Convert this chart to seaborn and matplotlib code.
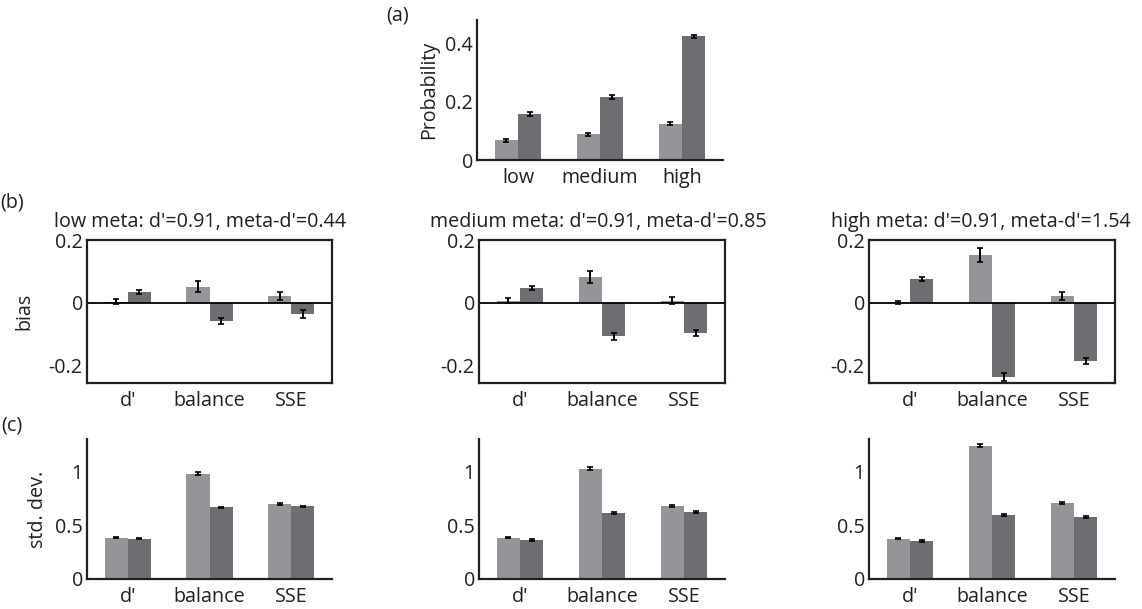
import pandas as pd
import seaborn as sns
import matplotlib
matplotlib.use("Agg")
import matplotlib.pyplot as plt

sns.set_theme(style="white")
plt.rcParams['font.family'] = ['Open Sans', 'DejaVu Sans']

# colores de las dos series
light_gray = '#939598'
dark_gray = '#6d6e71'

# (a) probabilidad por nivel de meta
levels = ['low', 'medium', 'high']
prob_light = [0.068, 0.088, 0.125]
prob_dark = [0.158, 0.216, 0.424]
prob_light_err = [0.005, 0.005, 0.006]
prob_dark_err = [0.006, 0.006, 0.006]

# (b) y (c): medidas
measures = ["d'", 'balance', 'SSE']
titles = ["low meta: d'=0.91, meta-d'=0.44",
          "medium meta: d'=0.91, meta-d'=0.85",
          "high meta: d'=0.91, meta-d'=1.54"]

bias_light = [[0.004, 0.052, 0.023],
              [0.007, 0.082, 0.007],
              [0.001, 0.151, 0.023]]
bias_dark = [[0.035, -0.057, -0.036],
             [0.048, -0.107, -0.096],
             [0.075, -0.236, -0.185]]
bias_light_err = [[0.009, 0.018, 0.013],
                  [0.009, 0.020, 0.012],
                  [0.006, 0.022, 0.013]]
bias_dark_err = [[0.006, 0.010, 0.012],
                 [0.006, 0.010, 0.010],
                 [0.006, 0.012, 0.010]]

sd_light = [[0.385, 0.978, 0.699],
            [0.385, 1.025, 0.680],
            [0.373, 1.239, 0.708]]
sd_dark = [[0.373, 0.665, 0.674],
           [0.363, 0.615, 0.624],
           [0.354, 0.596, 0.578]]
sd_light_err = [[0.006, 0.012, 0.008],
                [0.006, 0.012, 0.008],
                [0.006, 0.014, 0.008]]
sd_dark_err = [[0.006, 0.008, 0.008],
               [0.006, 0.008, 0.008],
               [0.006, 0.008, 0.008]]

W, H = 1142, 609
fig = plt.figure(figsize=(W / 100, H / 100), dpi=100)
FS = 14.2
TXT = '#231f20'


def px_axes(left, top, right, bottom):
    return fig.add_axes([left / W, (H - bottom) / H, (right - left) / W, (bottom - top) / H])


def grouped_bars(ax, cats, v_light, v_dark, e_light, e_dark):
    df = pd.DataFrame({
        'cat': cats + cats,
        'val': list(v_light) + list(v_dark),
        'serie': ['a'] * len(cats) + ['b'] * len(cats),
    })
    sns.barplot(data=df, x='cat', y='val', hue='serie', order=cats,
                palette=[light_gray, dark_gray], width=0.57, errorbar=None,
                saturation=1, legend=False, ax=ax, linewidth=0)
    errs = list(e_light) + list(e_dark)
    vals = list(v_light) + list(v_dark)
    for p, v, e in zip(ax.patches, vals, errs):
        xc = p.get_x() + p.get_width() / 2
        ax.errorbar(xc, v, yerr=e, color='black', lw=1.4, capsize=2, capthick=1.2)
    ax.set_xlim(-0.5, 2.5)
    ax.set_xlabel('')
    ax.set_ylabel('')
    ax.tick_params(axis='both', labelsize=FS, length=3, direction='in', color='#222222', pad=3,
                   labelcolor=TXT)
    ax.tick_params(axis='x', length=0, pad=6)
    for s in ax.spines.values():
        s.set_color(TXT)
        s.set_linewidth(1.6)


# (a)
ax_a = px_axes(477, 20, 723, 160)
grouped_bars(ax_a, levels, prob_light, prob_dark, prob_light_err, prob_dark_err)
ax_a.set_ylim(0, 0.48)
ax_a.set_yticks([0, 0.2, 0.4])
ax_a.set_yticklabels(['0', '0.2', '0.4'])
ax_a.set_ylabel('Probability', fontsize=FS, labelpad=4, color=TXT)
sns.despine(ax=ax_a)
fig.text(398 / W, 1 - 15 / H, '(a)', fontsize=FS, ha='center', va='center', color=TXT)

lefts = [87, 479, 869]
rights = [332, 725, 1115]
title_x = [0.461, 0.486, 0.455]

# (b) sesgo
for i in range(3):
    ax = px_axes(lefts[i], 240, rights[i], 383)
    grouped_bars(ax, measures, bias_light[i], bias_dark[i], bias_light_err[i], bias_dark_err[i])
    ax.axhline(0, color='black', lw=1.3, zorder=1)
    ax.set_ylim(-0.255, 0.2)
    ax.set_yticks([-0.2, 0, 0.2])
    ax.set_yticklabels(['-0.2', '0', '0.2'])
    ax.set_title(titles[i], fontsize=FS, pad=9, color=TXT, x=title_x[i])
    if i == 0:
        ax.set_ylabel('bias', fontsize=FS, labelpad=10, color=TXT)
fig.text(12 / W, 1 - 203 / H, '(b)', fontsize=FS, ha='center', va='center', color=TXT)

# (c) desviacion estandar
for i in range(3):
    ax = px_axes(lefts[i], 439, rights[i], 579)
    grouped_bars(ax, measures, sd_light[i], sd_dark[i], sd_light_err[i], sd_dark_err[i])
    ax.set_ylim(0, 1.3)
    ax.set_yticks([0, 0.5, 1])
    ax.set_yticklabels(['0', '0.5', '1'])
    sns.despine(ax=ax)
    if i == 0:
        ax.set_ylabel('std. dev.', fontsize=FS, labelpad=5, color=TXT)
fig.text(12 / W, 1 - 425 / H, '(c)', fontsize=FS, ha='center', va='center', color=TXT)

fig.savefig('out.png', dpi=100)
